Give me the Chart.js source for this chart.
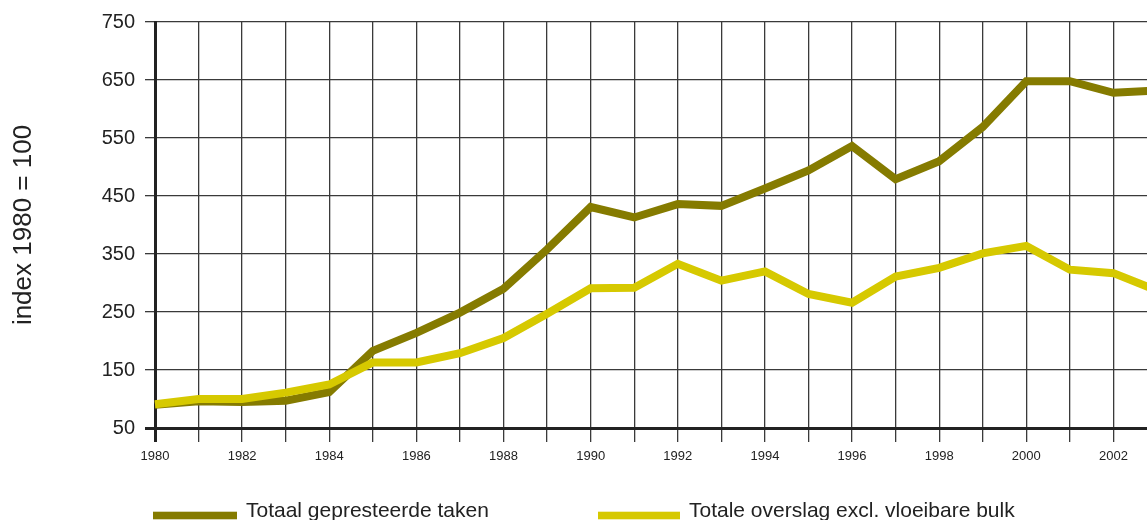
<!DOCTYPE html>
<html>
<head>
<meta charset="utf-8">
<script src="https://cdn.jsdelivr.net/npm/chart.js@4/dist/chart.umd.min.js"></script>
<style>
  html, body { margin: 0; padding: 0; background: #fff; overflow: hidden; }
  #wrap { width: 1147px; height: 520px; overflow: hidden; }
  canvas { display: block; }
</style>
</head>
<body>
<div id="wrap"><canvas id="c" width="1160" height="520"></canvas></div>
<script>
// ---- data ----
const years = ['1980','1981','1982','1983','1984','1985','1986','1987','1988','1989','1990','1991',
               '1992','1993','1994','1995','1996','1997','1998','1999','2000','2001','2002','2003'];
const totaalTaken = [90, 96, 95, 97, 112, 183, 214, 249, 290, 358, 431, 413,
                     436, 433, 463, 494, 536, 479, 510, 569, 648, 648, 628, 632];
const overslagExclBulk = [91, 100, 100, 111, 125, 163, 163, 179, 205, 247, 291, 292,
                          333, 304, 320, 281, 266, 311, 326, 351, 364, 323, 317, 287];
const seriesNames = ['Totaal gepresteerde taken', 'Totale overslag excl. vloeibare bulk'];
const yTicks = [50, 150, 250, 350, 450, 550, 650, 750];
const yTitle = 'index 1980 = 100';

const OLIVE = '#857b00';
const YELLOW = '#d6c900';
const FONT = '"Liberation Sans", Arial, Helvetica, sans-serif';
const TEXT = '#222';

const legendPlugin = {
  id: 'customLegend',
  afterDraw(chart) {
    const ctx = chart.ctx;
    const items = [
      { name: seriesNames[0], color: OLIVE, x0: 153, x1: 237, tx: 246 },
      { name: seriesNames[1], color: YELLOW, x0: 598, x1: 680, tx: 689 }
    ];
    ctx.save();
    items.forEach(it => {
      ctx.fillStyle = it.color;
      ctx.fillRect(it.x0, 511.7, it.x1 - it.x0, 7.6);
      ctx.fillStyle = TEXT;
      ctx.font = '21px ' + FONT;
      ctx.textBaseline = 'alphabetic';
      ctx.textAlign = 'left';
      ctx.fillText(it.name, it.tx, 517);
    });
    ctx.restore();
  }
};

new Chart(document.getElementById('c'), {
  type: 'line',
  data: {
    labels: years,
    datasets: [
      {
        label: seriesNames[0],
        data: totaalTaken,
        borderColor: OLIVE,
        backgroundColor: OLIVE,
        borderWidth: 8,
        pointRadius: 0,
        tension: 0,
        borderJoinStyle: 'miter',
        borderCapStyle: 'butt',
        order: 2
      },
      {
        label: seriesNames[1],
        data: overslagExclBulk,
        borderColor: YELLOW,
        backgroundColor: YELLOW,
        borderWidth: 8,
        pointRadius: 0,
        tension: 0,
        borderJoinStyle: 'miter',
        borderCapStyle: 'butt',
        order: 1
      }
    ]
  },
  options: {
    responsive: false,
    devicePixelRatio: 1,
    animation: false,
    layout: { padding: { left: 0, right: 3, top: 20, bottom: 0 } },
    plugins: {
      legend: { display: false },
      tooltip: { enabled: false }
    },
    scales: {
      x: {
        type: 'category',
        offset: false,
        afterFit(scale) { scale.height = 92; scale.paddingLeft = 0; scale.paddingRight = 0; },
        grid: {
          color: (c) => c.index === 0 ? '#222' : '#3a3a3a',
          lineWidth: (c) => c.index === 0 ? 3 : 1.3,
          tickLength: 14,
          drawTicks: true
        },
        border: { display: true, color: '#222', width: 3 },
        ticks: {
          autoSkip: false,
          maxRotation: 0,
          minRotation: 0,
          padding: 7,
          color: TEXT,
          font: { family: FONT, size: 13 },
          callback: function (value, index) {
            const y = years[index];
            return (parseInt(y, 10) % 2 === 0) ? y : '';
          }
        }
      },
      y: {
        min: yTicks[0],
        max: yTicks[yTicks.length - 1],
        afterFit(scale) { scale.width = 155; },
        afterBuildTicks(scale) { scale.ticks = yTicks.map(v => ({ value: v })); },
        grid: {
          color: (c) => c.tick && c.tick.value === yTicks[0] ? '#222' : '#3a3a3a',
          lineWidth: (c) => c.tick && c.tick.value === yTicks[0] ? 3 : 1.3,
          tickLength: 10,
          drawTicks: true
        },
        border: { display: true, color: '#222', width: 3 },
        ticks: {
          padding: 10,
          color: TEXT,
          font: { family: FONT, size: 20 }
        },
        title: {
          display: true,
          text: yTitle,
          color: TEXT,
          font: { family: FONT, size: 26, weight: 'normal' },
          padding: { top: 8, bottom: 0 }
        }
      }
    }
  },
  plugins: [legendPlugin]
});
</script>
</body>
</html>
